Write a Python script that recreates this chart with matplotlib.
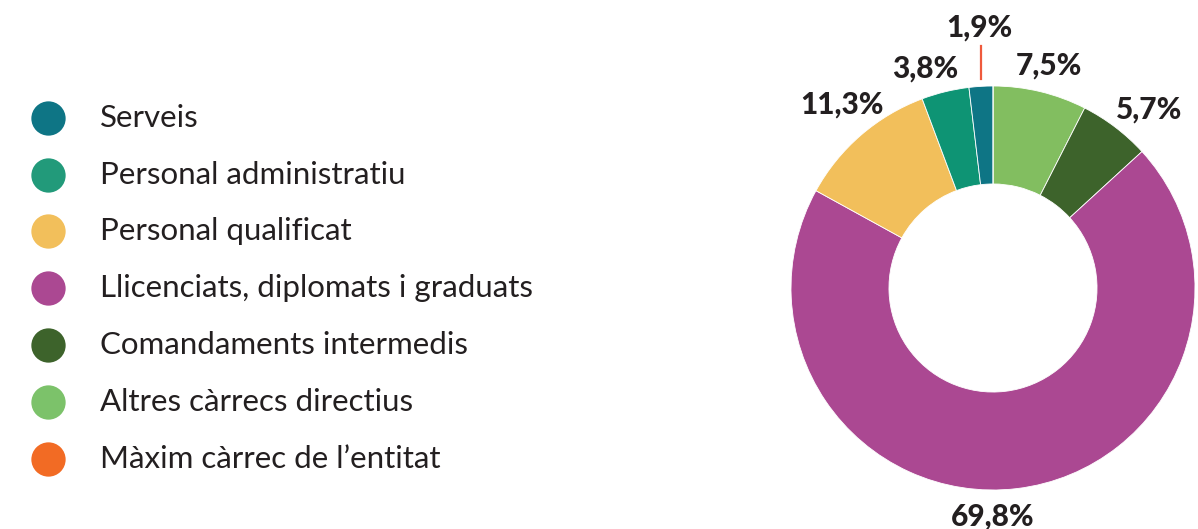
import matplotlib.pyplot as plt
import numpy as np

W, H = 1198, 529

# data, in clockwise order from the top of the ring
categories = ['Altres càrrecs directius', 'Comandaments intermedis',
              'Llicenciats, diplomats i graduats', 'Personal qualificat',
              'Personal administratiu', 'Serveis', "Màxim càrrec de l’entitat"]
shares = [7.5, 5.7, 69.8, 11.3, 3.8, 1.9, 0.0]
labels = ['7,5%', '5,7%', '69,8%', '11,3%', '3,8%', '1,9%', '']
colors = ['#82be60', '#3d632b', '#ab4892', '#f2bf5b', '#0e9474', '#0e7585', '#f26b24']

# legend order as in the reference
legend_order = ['Serveis', 'Personal administratiu', 'Personal qualificat',
                'Llicenciats, diplomats i graduats', 'Comandaments intermedis',
                'Altres càrrecs directius', "Màxim càrrec de l’entitat"]
legend_colors = ['#0e7585', '#229a7a', '#f2bf5b', '#ab4892', '#3d632b', '#7cc26a', '#f26b24']

FONT = 'Lato'
TXT = '#231f20'

# label placement (angle clockwise from top in degrees, radius in ring units)
label_ang = [14.1, 41.1, 180.0, 320.6, 342.8, 357.0, 0]
label_r = [1.138, 1.175, 1.129, 1.178, 1.135, 1.289, 1.1]

fig = plt.figure(figsize=(W / 100, H / 100), dpi=100)

# legend drawn in pixel space
lax = fig.add_axes([0, 0, 1, 1])
lax.set_xlim(0, W)
lax.set_ylim(H, 0)
lax.axis('off')
ys = [118, 175, 231, 288, 345, 402, 459]
for y, name, c in zip(ys, legend_order, legend_colors):
    lax.scatter([48], [y], s=610, color=c, linewidths=0)
    lax.text(100, y, name, fontsize=22.5, family=FONT, color=TXT,
             ha='left', va='center')

# donut
cx, cy, R = 993, 288, 202
ax = fig.add_axes([(cx - R) / W, (H - cy - R) / H, 2 * R / W, 2 * R / H])
ax.pie(shares, colors=colors, startangle=90, counterclock=False, radius=1,
       wedgeprops=dict(width=0.485, edgecolor='white', linewidth=0.6))
ax.set_xlim(-1, 1)
ax.set_ylim(-1, 1)
ax.set_aspect('equal')
ax.axis('off')

for i, lab in enumerate(labels):
    if not lab:
        continue
    ang = np.deg2rad(label_ang[i])
    x, y = label_r[i] * np.sin(ang), label_r[i] * np.cos(ang)
    ax.text(x, y, lab, fontsize=21.5, fontweight='black', family=FONT,
            color=TXT, ha='center', va='center', clip_on=False)
    if lab == '1,9%':
        ax.plot([-0.06, -0.06], [1.035, 1.20], color='#ef5a3c', lw=1.6,
                clip_on=False)

fig.savefig('out.png', dpi=100)
